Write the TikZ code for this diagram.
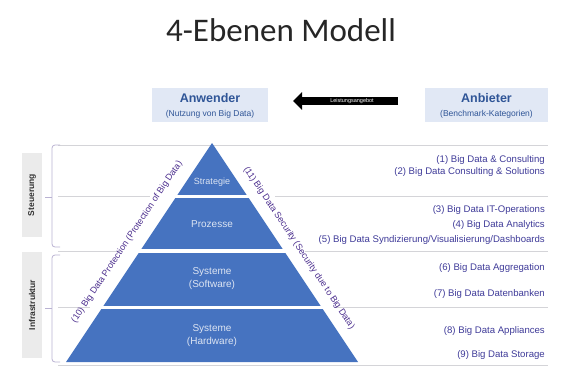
\documentclass[tikz,border=0pt]{standalone}
\usepackage{fontspec}
\setmainfont{Liberation Sans}
\newfontfamily\titlefont{Carlito}
\usetikzlibrary{arrows.meta,positioning,calc}
\definecolor{pyrblue}  {HTML}{4673C0}
\definecolor{pyrtext}  {HTML}{DCE4F2}
\definecolor{headblue} {HTML}{2F5597}
\definecolor{headfill} {HTML}{E1E8F5}
\definecolor{listink}  {HTML}{3E3A98}
\definecolor{edgeink}  {HTML}{4C2F8E}
\definecolor{rowline}  {HTML}{D4D4D8}
\definecolor{brackline}{HTML}{B9B2D2}
\definecolor{sidefill} {HTML}{EBEBEB}
\tikzset{
  headbox/.style  ={fill=headfill, minimum width=116pt, minimum height=34pt,
                    inner sep=0pt},
  headtitle/.style={font=\fontsize{12.5}{13}\selectfont\bfseries, text=headblue},
  headsub/.style  ={font=\fontsize{8.5}{9}\selectfont, text=headblue},
  layertext/.style={font=\fontsize{10}{13}\selectfont, text=pyrtext, align=center},
  itemtext/.style ={font=\fontsize{9.6}{10}\selectfont, text=listink, anchor=east, inner sep=0pt},
  edgetext/.style ={font=\fontsize{9}{10}\selectfont, text=edgeink, inner sep=0pt},
  sidebox/.style  ={fill=sidefill, font=\fontsize{8.5}{9}\selectfont\bfseries,
                    text=black!80, rotate=90, inner sep=0pt},
  rowsep/.style   ={draw=rowline, line width=0.8pt},
  bracket/.style  ={draw=brackline, line width=0.8pt, rounded corners=3pt},
  flowarr/.style  ={-{Triangle[length=9pt,width=17pt]}, line width=8pt, black},
}

\begin{document}
\begin{tikzpicture}[x=1pt,y=-1pt]
    \useasboundingbox (0,0) rectangle (561,385);

    \node[font=\titlefont\fontsize{33}{36}\selectfont, text=black!85] (title) at (281,30) {4-Ebenen Modell};

    % Anwender / Anbieter
    \node[headbox] (anw) at (210,105) {};
    \node[headtitle] at (210,98) {Anwender};
    \node[headsub] at (210,114) {(Nutzung von Big Data)};
    \node[headbox,minimum width=123pt] (anb) at (486.5,105) {};
    \node[headtitle] at (486.5,98) {Anbieter};
    \node[headsub] at (486.5,114) {(Benchmark-Kategorien)};
    \coordinate (arrfrom) at (398,101);
    \coordinate (arrto) at (293,101);
    \draw[flowarr] (arrfrom) -- (arrto);
    \node[font=\fontsize{5.5}{6}\selectfont, text=white, inner sep=0pt] (arrlbl) at (352,101) {Leistungsangebot};

    % row separators
    \draw[rowsep] (58,145) -- (548,145);
    \draw[rowsep] (58,196.5) -- (548,196.5);
    \draw[rowsep] (58,251) -- (548,251);
    \draw[rowsep] (58,307.5) -- (548,307.5);
    \draw[rowsep] (58,365) -- (548,365);

    % brackets on the left
    \draw[bracket] (60,145) -| (52,247) -- (60,247);
    \draw[bracket] (45,197) -- (52,197);
    \draw[bracket] (60,255) -| (52,362) -- (60,362);
    \draw[bracket] (45,308) -- (52,308);
    \node[sidebox,minimum width=84pt,minimum height=20pt] (steu) at (32,195) {Steuerung};
    \node[sidebox,minimum width=106pt,minimum height=20pt] (infra) at (32,305) {Infrastruktur};

    % pyramid
    \coordinate (apex) at (212,143);
    \coordinate (baseL) at (66,362);
    \coordinate (baseR) at (358,362);
    \fill[pyrblue] (apex) -- (baseR) -- (baseL) -- cycle;
    \draw[white,line width=3pt] (150,196.5) -- (275,196.5);
    \draw[white,line width=3.5pt] (120,251) -- (305,251);
    \draw[white,line width=3pt] (90,307.5) -- (335,307.5);
    \node[layertext,font=\fontsize{9}{11}\selectfont] (strat) at (212,182) {Strategie};
    \node[layertext] (proz) at (212,224) {Prozesse};
    \node[layertext] (soft) at (212,279) {Systeme\\(Software)};
    \node[layertext] (hard) at (212,336) {Systeme\\(Hardware)};

    % labels along the edges
    \node[edgetext,rotate=56.3] (prot) at (127,242) {(10) Big Data Protection (Protection of Big Data)};
    \node[edgetext,rotate=-56.3] (secu) at (299,248) {(11) Big Data Security (Security due to Big Data)};

    % benchmark categories
    \node[itemtext] (k1) at (545,160) {(1) Big Data \& Consulting};
    \node[itemtext] (k2) at (545,172) {(2) Big Data Consulting \& Solutions};
    \node[itemtext] (k3) at (545,210) {(3) Big Data IT-Operations};
    \node[itemtext] (k4) at (545,225) {(4) Big Data Analytics};
    \node[itemtext] (k5) at (545,240) {(5) Big Data Syndizierung/Visualisierung/Dashboards};
    \node[itemtext] (k6) at (545,268) {(6) Big Data Aggregation};
    \node[itemtext] (k7) at (545,294) {(7) Big Data Datenbanken};
    \node[itemtext] (k8) at (545,331) {(8) Big Data Appliances};
    \node[itemtext] (k9) at (545,355) {(9) Big Data Storage};
  \end{tikzpicture}
\end{document}
